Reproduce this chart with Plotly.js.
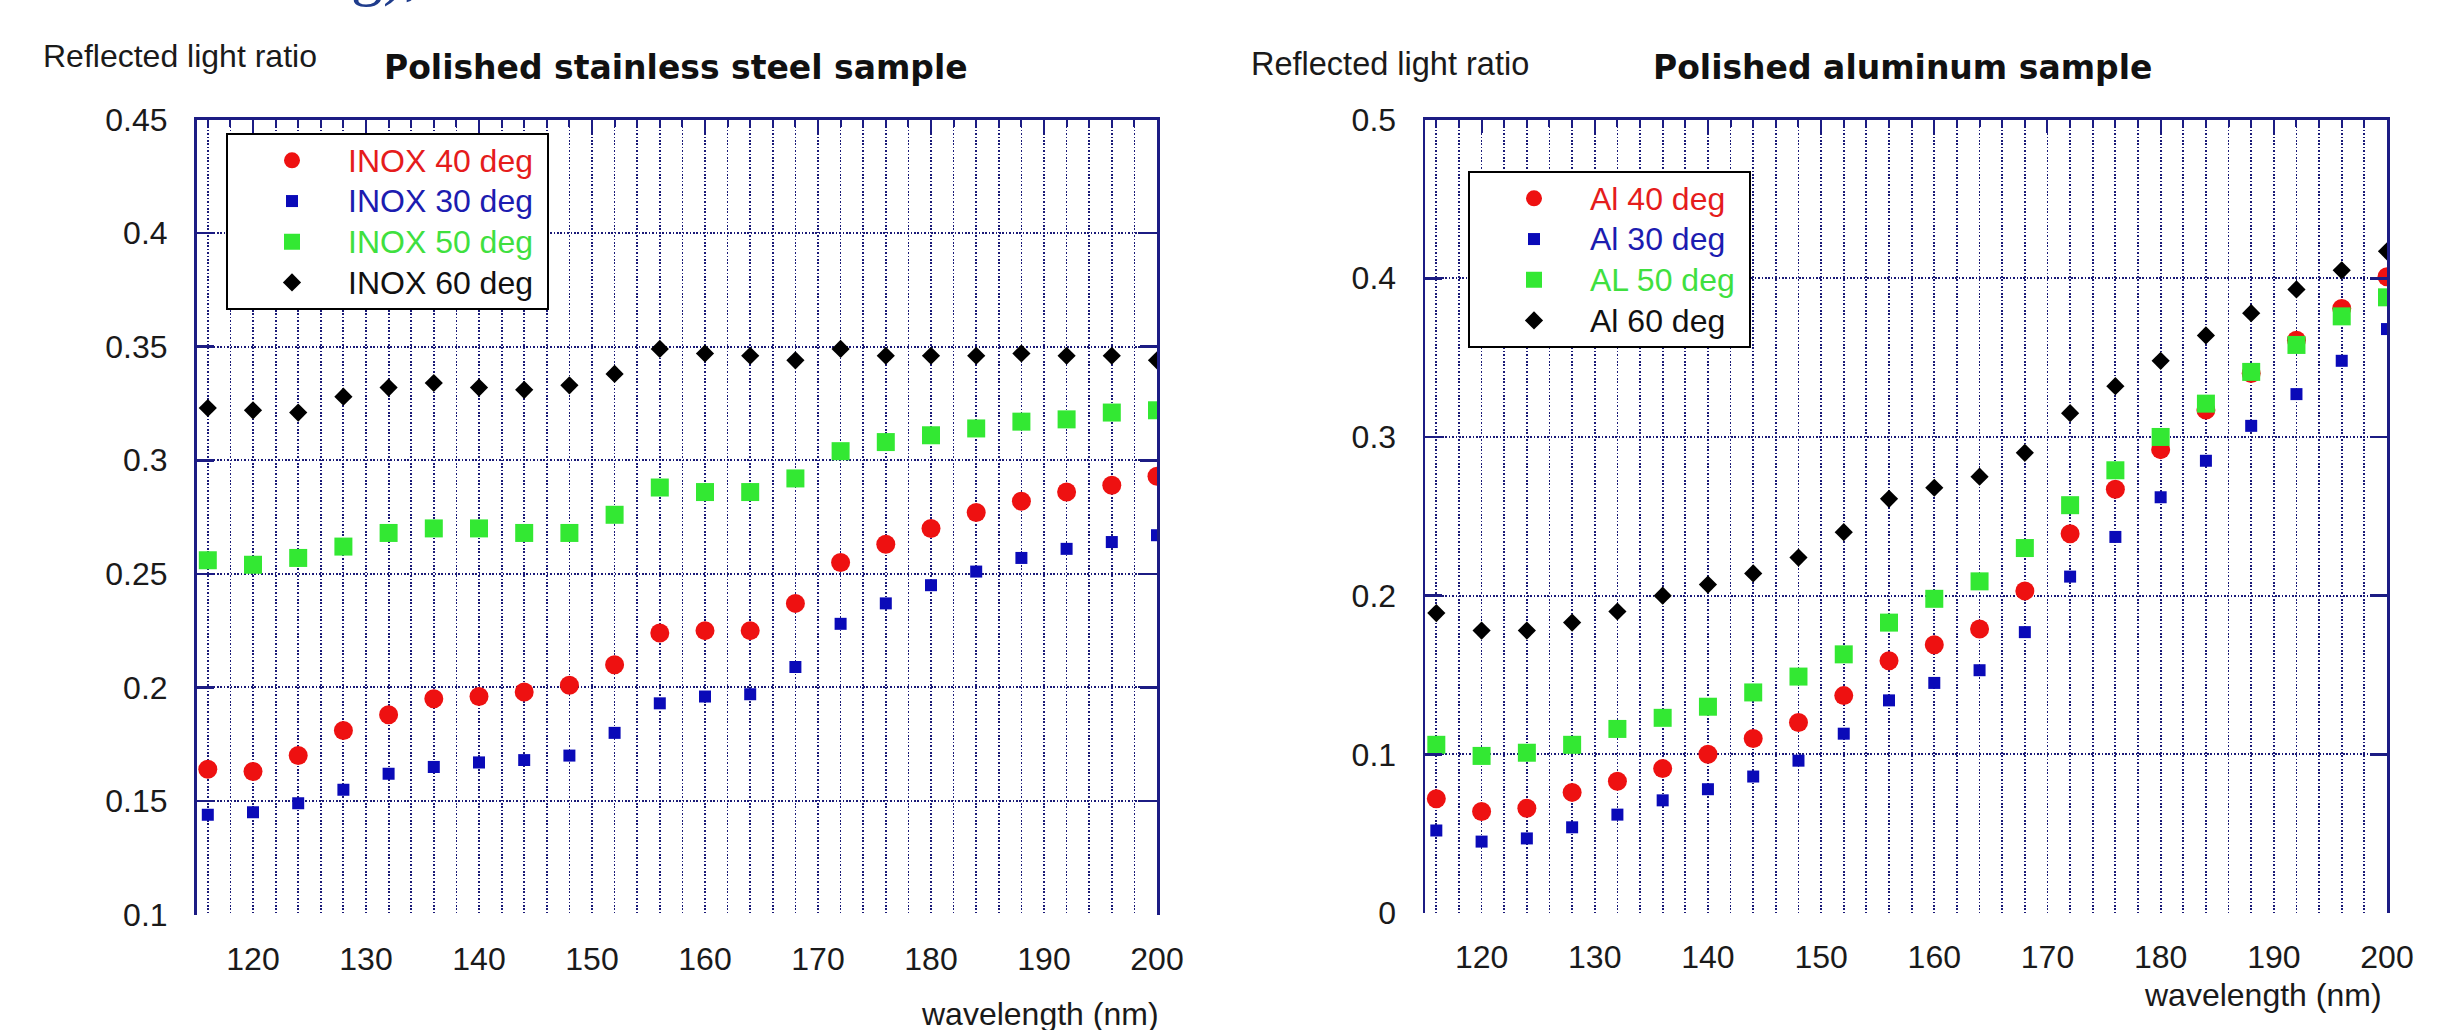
<!DOCTYPE html>
<html>
<head>
<meta charset="utf-8">
<script src="https://cdn.plot.ly/plotly-3.0.1.min.js"></script>
<style>
  html, body { margin: 0; padding: 0; background: #ffffff; }
  #chart { width: 2452px; height: 1030px; }
</style>
</head>
<body>
<div id="chart"></div>
<script>
// ---------------- data ----------------
const wavelength = [116, 120, 124, 128, 132, 136, 140, 144, 148, 152, 156, 160, 164, 168, 172, 176, 180, 184, 188, 192, 196, 200];

const inox40 = [0.164, 0.163, 0.170, 0.181, 0.188, 0.195, 0.196, 0.198, 0.201, 0.210, 0.224, 0.225, 0.225, 0.237, 0.255, 0.263, 0.270, 0.277, 0.282, 0.286, 0.289, 0.293];
const inox30 = [0.144, 0.145, 0.149, 0.155, 0.162, 0.165, 0.167, 0.168, 0.170, 0.180, 0.193, 0.196, 0.197, 0.209, 0.228, 0.237, 0.245, 0.251, 0.257, 0.261, 0.264, 0.267];
const inox50 = [0.256, 0.254, 0.257, 0.262, 0.268, 0.270, 0.270, 0.268, 0.268, 0.276, 0.288, 0.286, 0.286, 0.292, 0.304, 0.308, 0.311, 0.314, 0.317, 0.318, 0.321, 0.322];
const inox60 = [0.323, 0.322, 0.321, 0.328, 0.332, 0.334, 0.332, 0.331, 0.333, 0.338, 0.349, 0.347, 0.346, 0.344, 0.349, 0.346, 0.346, 0.346, 0.347, 0.346, 0.346, 0.344];

const al40 = [0.072, 0.064, 0.066, 0.076, 0.083, 0.091, 0.100, 0.110, 0.120, 0.137, 0.159, 0.169, 0.179, 0.203, 0.239, 0.267, 0.292, 0.317, 0.340, 0.361, 0.381, 0.401];
const al30 = [0.052, 0.045, 0.047, 0.054, 0.062, 0.071, 0.078, 0.086, 0.096, 0.113, 0.134, 0.145, 0.153, 0.177, 0.212, 0.237, 0.262, 0.285, 0.307, 0.327, 0.348, 0.368];
const al50 = [0.106, 0.099, 0.101, 0.106, 0.116, 0.123, 0.130, 0.139, 0.149, 0.163, 0.183, 0.198, 0.209, 0.230, 0.257, 0.279, 0.300, 0.321, 0.341, 0.358, 0.376, 0.388];
const al60 = [0.189, 0.178, 0.178, 0.183, 0.190, 0.200, 0.207, 0.214, 0.224, 0.240, 0.261, 0.268, 0.275, 0.290, 0.315, 0.332, 0.348, 0.364, 0.378, 0.393, 0.405, 0.417];

const leftSeriesNames = ['INOX 40 deg', 'INOX 30 deg', 'INOX 50 deg', 'INOX 60 deg'];
const rightSeriesNames = ['Al 40 deg', 'Al 30 deg', 'AL 50 deg', 'Al 60 deg'];

const xTickVals = [120, 130, 140, 150, 160, 170, 180, 190, 200];
const xTickText = ['120', '130', '140', '150', '160', '170', '180', '190', '200'];
const leftYTickVals = [0.1, 0.15, 0.2, 0.25, 0.3, 0.35, 0.4, 0.45];
const leftYTickText = ['0.1', '0.15', '0.2', '0.25', '0.3', '0.35', '0.4', '0.45'];
const rightYTickVals = [0, 0.1, 0.2, 0.3, 0.4, 0.5];
const rightYTickText = ['0', '0.1', '0.2', '0.3', '0.4', '0.5'];

const leftTitle = 'Polished stainless steel sample';
const rightTitle = 'Polished aluminum sample';
const yLabel = 'Reflected light ratio';
const xLabel = 'wavelength (nm)';
const topFragment = 'g),';

// ---------------- styling ----------------
const W = 2452, H = 1030;
const px = v => v / W;
const py = v => 1 - v / H;

const FONT = 'Arial, "Liberation Sans", sans-serif';
const NAVY = '#1c1c84';
const GRID = '#1a1a78';
const DASH = '1.6px,1.8px';
const TXT = '#1a1a1a';

const COLORS = { red: '#ee1111', blue: '#0a0ab8', green: '#33e833', black: '#000000' };
const LEG_COLORS = ['#e51c1c', '#1c1cb0', '#3fe03f', '#111111'];

function styled(name, color) {
  return '<span style="color:' + color + ';font-size:32px">' + name + '\u00a0</span>';
}

function series(x, y, name, legColor, symbol, color, size, xa, ya, legend) {
  return {
    type: 'scatter', mode: 'markers', x: x, y: y,
    name: styled(name, legColor), xaxis: xa, yaxis: ya, legend: legend,
    marker: { symbol: symbol, color: color, size: size, line: { width: 0 } },
    hoverinfo: 'skip'
  };
}

const traces = [
  series(wavelength, inox40, leftSeriesNames[0], LEG_COLORS[0], 'circle', COLORS.red, 19, 'x', 'y', 'legend'),
  series(wavelength, inox30, leftSeriesNames[1], LEG_COLORS[1], 'square', COLORS.blue, 12, 'x', 'y', 'legend'),
  series(wavelength, inox50, leftSeriesNames[2], LEG_COLORS[2], 'square', COLORS.green, 18, 'x', 'y', 'legend'),
  series(wavelength, inox60, leftSeriesNames[3], LEG_COLORS[3], 'diamond', COLORS.black, 14, 'x', 'y', 'legend'),
  series(wavelength, al40, rightSeriesNames[0], LEG_COLORS[0], 'circle', COLORS.red, 19, 'x2', 'y2', 'legend2'),
  series(wavelength, al30, rightSeriesNames[1], LEG_COLORS[1], 'square', COLORS.blue, 12, 'x2', 'y2', 'legend2'),
  series(wavelength, al50, rightSeriesNames[2], LEG_COLORS[2], 'square', COLORS.green, 18, 'x2', 'y2', 'legend2'),
  series(wavelength, al60, rightSeriesNames[3], LEG_COLORS[3], 'diamond', COLORS.black, 14, 'x2', 'y2', 'legend2'),
  // empty traces so the top (tick-only) axes get drawn
  { type: 'scatter', x: [], y: [], xaxis: 'x3', yaxis: 'y', showlegend: false, hoverinfo: 'skip' },
  { type: 'scatter', x: [], y: [], xaxis: 'x4', yaxis: 'y2', showlegend: false, hoverinfo: 'skip' }
];

function bottomX(domain, anchor) {
  return {
    domain: domain, range: [115, 200], anchor: anchor, fixedrange: true,
    showline: false, ticks: '', zeroline: false,
    tickmode: 'array', tickvals: xTickVals, ticktext: xTickText,
    tickfont: { family: FONT, size: 32, color: TXT }, ticklabelstandoff: 22,
    showgrid: true, gridcolor: GRID, gridwidth: 1.8, griddash: DASH,
    minor: { tickmode: 'linear', tick0: 0, dtick: 2, ticks: '', showgrid: true,
             gridcolor: GRID, gridwidth: 1.8, griddash: DASH }
  };
}
function topX(over, anchor) {
  return {
    overlaying: over, anchor: anchor, side: 'top', range: [115, 200], fixedrange: true,
    showline: true, linecolor: NAVY, linewidth: 2.5, zeroline: false,
    ticks: 'inside', ticklen: 13, tickwidth: 2, tickcolor: NAVY,
    tickmode: 'array', tickvals: xTickVals, showticklabels: false, showgrid: false,
    minor: { tickmode: 'linear', tick0: 0, dtick: 2, ticks: 'inside', ticklen: 7,
             tickwidth: 2, tickcolor: NAVY, showgrid: false }
  };
}
function leftY(domain, anchor, range, vals, text) {
  return {
    domain: domain, range: range, anchor: anchor, fixedrange: true,
    showline: true, linecolor: NAVY, linewidth: 2.5, mirror: 'ticks', zeroline: false,
    ticks: 'inside', ticklen: 17, tickwidth: 2.5, tickcolor: NAVY,
    tickmode: 'array', tickvals: vals, ticktext: text,
    tickfont: { family: FONT, size: 32, color: TXT }, ticklabelstandoff: 20,
    showgrid: true, gridcolor: GRID, gridwidth: 2, griddash: DASH
  };
}
function legendBox(xp, yp) {
  return {
    x: px(xp), y: py(yp), xanchor: 'left', yanchor: 'top',
    bgcolor: '#ffffff', bordercolor: '#000000', borderwidth: 2,
    font: { family: FONT, size: 29, color: '#000' },
    itemwidth: 102, indentation: 8, tracegroupgap: 0
  };
}
function ann(text, x, y, xanchor, yanchor, size, family, color) {
  return { text: text, xref: 'paper', yref: 'paper', x: px(x), y: py(y),
           xanchor: xanchor, yanchor: yanchor, showarrow: false,
           font: { family: family, size: size, color: color } };
}

const layout = {
  width: W, height: H, autosize: false,
  margin: { l: 0, r: 0, t: 0, b: 0, pad: 0 },
  paper_bgcolor: '#ffffff', plot_bgcolor: '#ffffff',
  showlegend: true,
  xaxis: bottomX([px(196.5), px(1157)], 'y'),
  xaxis2: bottomX([px(1425), px(2387)], 'y2'),
  xaxis3: topX('x', 'y'),
  xaxis4: topX('x2', 'y2'),
  yaxis: leftY([py(914.6), py(119.5)], 'x', [0.1, 0.45], leftYTickVals, leftYTickText),
  yaxis2: leftY([py(913), py(119.6)], 'x2', [0, 0.5], rightYTickVals, rightYTickText),
  legend: legendBox(226, 133),
  legend2: legendBox(1468, 171),
  annotations: [
    ann(yLabel, 41, 55.6, 'left', 'middle', 32, FONT, TXT),
    ann(yLabel, 1249, 64, 'left', 'middle', 32.5, FONT, TXT),
    ann('<b>' + leftTitle + '</b>', 676, 68, 'center', 'middle', 33, '"DejaVu Sans", Verdana, sans-serif', '#111111'),
    ann('<b>' + rightTitle + '</b>', 1902, 68, 'center', 'middle', 33, '"DejaVu Sans", Verdana, sans-serif', '#111111'),
    ann(xLabel, 1161, 1014, 'right', 'middle', 32, FONT, TXT),
    ann(xLabel, 2384, 995, 'right', 'middle', 32, FONT, TXT),
    ann(topFragment, 349, 9, 'left', 'bottom', 64, '"Liberation Serif", "DejaVu Serif", serif', '#1f3c8c')
  ]
};

Plotly.newPlot('chart', traces, layout, { staticPlot: true, displayModeBar: false });
</script>
</body>
</html>
